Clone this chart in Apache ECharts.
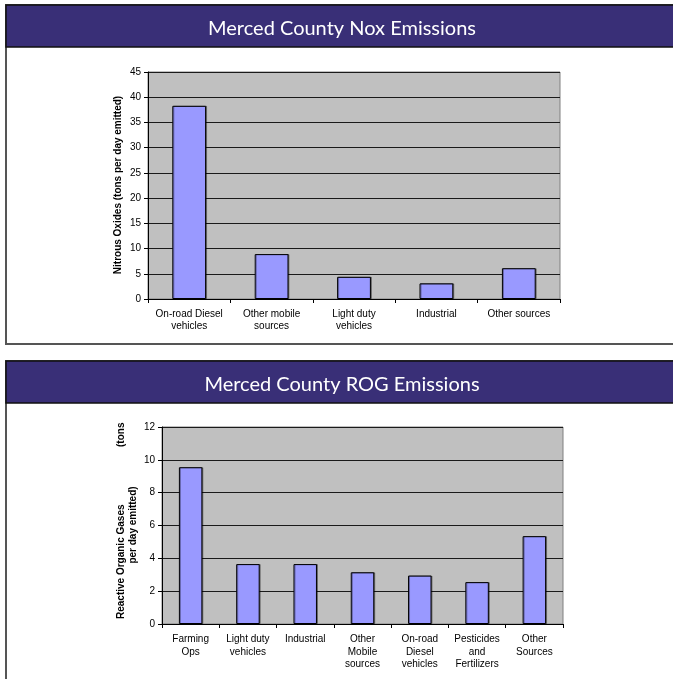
<!DOCTYPE html>
<html>
<head>
<meta charset="utf-8">
<script src="https://cdn.jsdelivr.net/npm/echarts@6/dist/echarts.min.js"></script>
<style>
  html, body { margin: 0; padding: 0; background: #fff; }
  #chart { width: 673px; height: 679px; }
</style>
</head>
<body>
<div id="chart"></div>
<script>
// NOx emissions by source (tons per day)
var noxCategories = ['On-road Diesel\nvehicles', 'Other mobile\nsources', 'Light duty\nvehicles', 'Industrial', 'Other sources'];
var noxValues = [38.3, 8.9, 4.4, 3.1, 6.1];
var noxTicks = { min: 0, max: 45, interval: 5 };

// ROG emissions by source (tons per day)
var rogCategories = ['Farming\nOps', 'Light duty\nvehicles', 'Industrial', 'Other\nMobile\nsources', 'On-road\nDiesel\nvehicles', 'Pesticides\nand\nFertilizers', 'Other\nSources'];
var rogValues = [9.55, 3.65, 3.65, 3.15, 2.95, 2.55, 5.35];
var rogTicks = { min: 0, max: 12, interval: 2 };

var headerColor = '#392f77';
var plotBg = '#c0c0c0';
var barColor = '#9999ff';
var axisFont = 'Liberation Sans, Arial, sans-serif';
var titleFont = 'Lato, "Open Sans", sans-serif';

var chart = echarts.init(document.getElementById('chart'), null, { renderer: 'canvas' });

// framed panel with a coloured header band and a centred title
function panel(y, h, title) {
  return [
    { type: 'rect', z: -10, shape: { x: 6, y: y, width: 720, height: h },
      style: { fill: '#fff', stroke: '#555', lineWidth: 2 } },
    { type: 'rect', z: -9, shape: { x: 6, y: y, width: 720, height: 42 },
      style: { fill: headerColor, stroke: '#111', lineWidth: 1.5 } },
    { type: 'text', z: -8, x: 342, y: y + 24,
      style: { text: title, fill: '#fff', font: '20px ' + titleFont, align: 'center', verticalAlign: 'middle' } }
  ];
}

// bold axis title reading bottom-to-top
function sideText(text, x, y, align) {
  return { type: 'text', x: x, y: y, rotation: Math.PI / 2,
    style: { text: text, fill: '#000', font: 'bold 10px ' + axisFont, align: align, verticalAlign: 'middle' } };
}

function xAxisCfg(gridIndex, cats, lh) {
  return {
    type: 'category', gridIndex: gridIndex, data: cats,
    axisLine: { lineStyle: { color: '#000', width: 1 } },
    axisTick: { show: true, length: 4, lineStyle: { color: '#000' } },
    axisLabel: { interval: 0, color: '#000', fontSize: 10, fontFamily: axisFont, lineHeight: lh, margin: 9 }
  };
}

function yAxisCfg(gridIndex, t) {
  return {
    type: 'value', gridIndex: gridIndex, min: t.min, max: t.max, interval: t.interval,
    axisLine: { show: true, lineStyle: { color: '#000', width: 1 } },
    axisTick: { show: true, length: 4, lineStyle: { color: '#000' } },
    axisLabel: { color: '#000', fontSize: 10, fontFamily: axisFont, margin: 7 },
    splitLine: { show: true, lineStyle: { color: '#1a1a1a', width: 1 } }
  };
}

var barStyle = { color: barColor, borderColor: '#000', borderWidth: 1,
  shadowColor: 'rgba(0,0,0,0.35)', shadowOffsetX: 1, shadowOffsetY: 0 };

var axisTitles = [
  sideText('Nitrous Oxides (tons per day emitted)', 118, 185, 'center'),
  sideText('Reactive Organic Gases', 121, 619, 'left'),
  sideText('(tons', 121, 447, 'left'),
  sideText('per day emitted)', 133, 525, 'center')
];

var option = {
  animation: false,
  backgroundColor: '#fff',
  graphic: panel(5, 339, 'Merced County Nox Emissions').concat(
    panel(361, 340, 'Merced County ROG Emissions'),
    axisTitles
  ),
  grid: [
    { left: 148, top: 72, width: 412, height: 227, show: true, backgroundColor: plotBg, borderColor: '#808080', borderWidth: 1 },
    { left: 162, top: 427, width: 401, height: 197, show: true, backgroundColor: plotBg, borderColor: '#808080', borderWidth: 1 }
  ],
  xAxis: [xAxisCfg(0, noxCategories, 12), xAxisCfg(1, rogCategories, 12.5)],
  yAxis: [yAxisCfg(0, noxTicks), yAxisCfg(1, rogTicks)],
  series: [
    { type: 'bar', xAxisIndex: 0, yAxisIndex: 0, data: noxValues, barWidth: '41%', itemStyle: barStyle },
    { type: 'bar', xAxisIndex: 1, yAxisIndex: 1, data: rogValues, barWidth: '41%', itemStyle: barStyle }
  ]
};

chart.setOption(option);
</script>
</body>
</html>
